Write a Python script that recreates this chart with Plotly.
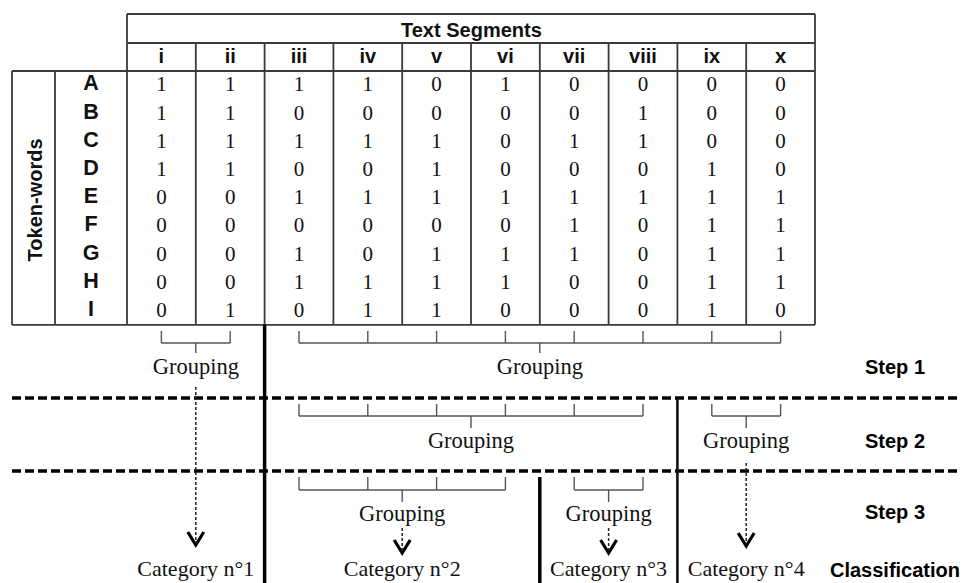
import plotly.graph_objects as go

# ---------------- data ----------------
segments = ["i", "ii", "iii", "iv", "v", "vi", "vii", "viii", "ix", "x"]
tokens = ["A", "B", "C", "D", "E", "F", "G", "H", "I"]
matrix = [
    [1, 1, 1, 1, 0, 1, 0, 0, 0, 0],  # A
    [1, 1, 0, 0, 0, 0, 0, 1, 0, 0],  # B
    [1, 1, 1, 1, 1, 0, 1, 1, 0, 0],  # C
    [1, 1, 0, 0, 1, 0, 0, 0, 1, 0],  # D
    [0, 0, 1, 1, 1, 1, 1, 1, 1, 1],  # E
    [0, 0, 0, 0, 0, 0, 1, 0, 1, 1],  # F
    [0, 0, 1, 0, 1, 1, 1, 0, 1, 1],  # G
    [0, 0, 1, 1, 1, 1, 0, 0, 1, 1],  # H
    [0, 1, 0, 1, 1, 0, 0, 0, 1, 0],  # I
]
# groupings per step: (first segment index, last segment index)
step1_groups = [(0, 1), (2, 9)]
step2_groups = [(2, 7), (8, 9)]
step3_groups = [(2, 5), (6, 7)]
categories = ["Category n°1", "Category n°2", "Category n°3", "Category n°4"]
step_labels = ["Step 1", "Step 2", "Step 3", "Classification"]

# ---------------- geometry ----------------
W, H = 968, 583
OFF = 8  # page body margin of the browser
COL0, COLW = 127, 68.8
ROW0, ROWH = 71, 28.2
HEAD_TOP, HEAD_MID = 14, 43
LEFT0, LEFT1 = 12, 55
NCOL, NROW = len(segments), len(tokens)
COL_END = COL0 + NCOL * COLW
ROW_END = ROW0 + NROW * ROWH


def cx(i):
    return COL0 + (i + 0.5) * COLW


def ry(j):
    return ROW0 + (j + 0.5) * ROWH


SERIF = "Liberation Serif, Times New Roman, serif"
SANS = "Liberation Sans, Arial, sans-serif"
LINEC = "#3a3a3a"
BRC = "#555555"

fig = go.Figure()
shapes = []


def line(x0, y0, x1, y1, color=LINEC, width=1.8, dash="solid"):
    shapes.append(dict(type="line", xref="x", yref="y", x0=x0, y0=y0, x1=x1, y1=y1,
                       line=dict(color=color, width=width, dash=dash)))


# table frame
line(COL0, HEAD_TOP, COL_END, HEAD_TOP)
line(COL0, HEAD_MID, COL_END, HEAD_MID)
line(LEFT0, ROW0, COL_END, ROW0)
line(LEFT0, ROW_END, COL_END, ROW_END)
line(COL0, HEAD_TOP, COL0, ROW_END)
line(COL_END, HEAD_TOP, COL_END, ROW_END)
line(LEFT0, ROW0, LEFT0, ROW_END)
line(LEFT1, ROW0, LEFT1, ROW_END)
for k in range(1, NCOL):
    line(COL0 + k * COLW, HEAD_MID, COL0 + k * COLW, ROW_END)

# table cells
xs, ys, ts = [], [], []
for j, row in enumerate(matrix):
    for i, v in enumerate(row):
        xs.append(cx(i))
        ys.append(ry(j) + 1)
        ts.append(str(v))
fig.add_trace(go.Scatter(x=xs, y=ys, text=ts, mode="text", hoverinfo="skip",
                         textfont=dict(family=SERIF, size=21, color="#111")))
# column headers
fig.add_trace(go.Scatter(x=[cx(i) for i in range(NCOL)], y=[(HEAD_MID + ROW0) / 2 + 1] * NCOL,
                         text=["<b>%s</b>" % s for s in segments], mode="text", hoverinfo="skip",
                         textfont=dict(family=SANS, size=20, color="#111")))
# row labels
fig.add_trace(go.Scatter(x=[(LEFT1 + COL0) / 2] * NROW, y=[ry(j) for j in range(NROW)],
                         text=["<b>%s</b>" % s for s in tokens], mode="text", hoverinfo="skip",
                         textfont=dict(family=SANS, size=21.5, color="#111")))

annotations = [
    dict(x=(COL0 + COL_END) / 2, y=(HEAD_TOP + HEAD_MID) / 2 + 1, text="<b>Text Segments</b>",
         showarrow=False, xref="x", yref="y", font=dict(family=SANS, size=20, color="#111")),
    dict(x=(LEFT0 + LEFT1) / 2 + 1, y=(ROW0 + ROW_END) / 2 + 2, text="<b>Token-words</b>",
         textangle=-90, showarrow=False, xref="x", yref="y",
         font=dict(family=SANS, size=20, color="#111")),
]


# brackets
def bracket(a, b, ytop, ybar, ystem):
    line(cx(a), ybar, cx(b), ybar, color=BRC, width=1.4)
    for i in range(a, b + 1):
        line(cx(i), ytop, cx(i), ybar, color=BRC, width=1.4)
    m = (cx(a) + cx(b)) / 2
    line(m, ybar, m, ystem, color=BRC, width=1.4)
    return m


grp_x, grp_y = [], []
for (a, b) in step1_groups:
    grp_x.append(bracket(a, b, 331, 343, 353)); grp_y.append(368)
for (a, b) in step2_groups:
    grp_x.append(bracket(a, b, 404, 416, 428)); grp_y.append(442)
for (a, b) in step3_groups:
    grp_x.append(bracket(a, b, 477, 490, 502)); grp_y.append(515)
fig.add_trace(go.Scatter(x=grp_x, y=grp_y, text=["Grouping"] * len(grp_x), mode="text",
                         hoverinfo="skip", textfont=dict(family=SERIF, size=22.5, color="#111")))

# dashed separators
for yy in (398, 471):
    line(LEFT0, yy, W, yy, color="#000", width=3.5, dash="9px,4px")

# thick vertical separators
line(COL0 + 2 * COLW, ROW_END, COL0 + 2 * COLW, H, color="#000", width=3.5)
line(COL0 + 8 * COLW, 398, COL0 + 8 * COLW, H, color="#111", width=2.6)
line(COL0 + 6 * COLW, 477, COL0 + 6 * COLW, H, color="#000", width=3.5)

# category arrows
cat_x = [(cx(0) + cx(1)) / 2, (cx(2) + cx(5)) / 2, (cx(6) + cx(7)) / 2, (cx(8) + cx(9)) / 2]
arrow_spec = [(387, 545), (528, 553), (528, 553), (463, 546)]
for x, (y0, y1) in zip(cat_x, arrow_spec):
    line(x, y0, x, y1 - 2, color="#222", width=1.5, dash="3px,2px")
    fig.add_trace(go.Scatter(x=[x - 8, x, x + 8], y=[y1 - 13, y1, y1 - 13], mode="lines",
                             hoverinfo="skip", line=dict(color="#000", width=3.2)))

fig.add_trace(go.Scatter(x=cat_x, y=[570] * 4, text=categories, mode="text", hoverinfo="skip",
                         textfont=dict(family=SERIF, size=22, color="#111")))

# step labels
fig.add_trace(go.Scatter(x=[895] * 4, y=[369, 443, 514, 572],
                         text=["<b>%s</b>" % s for s in step_labels], mode="text", hoverinfo="skip",
                         textfont=dict(family=SANS, size=20, color="#000")))

fig.update_layout(
    width=W - OFF, height=H - OFF, margin=dict(l=0, r=0, t=0, b=0),
    paper_bgcolor="white", plot_bgcolor="white", showlegend=False,
    xaxis=dict(range=[OFF, W], visible=False, fixedrange=True),
    yaxis=dict(range=[H, OFF], visible=False, fixedrange=True),
    shapes=shapes, annotations=annotations,
)
fig.write_html("out.html")
